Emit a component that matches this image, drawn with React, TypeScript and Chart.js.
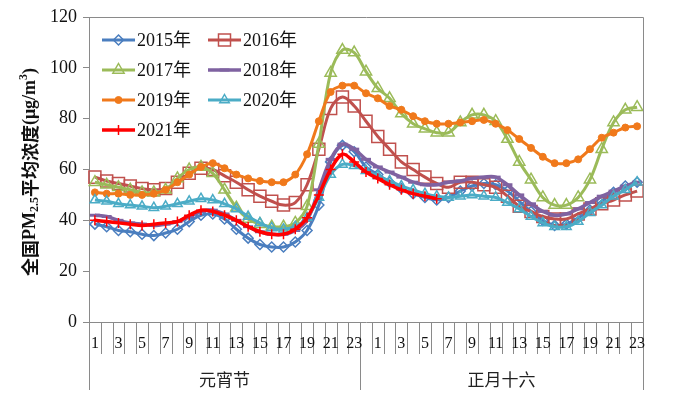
import React, { useEffect, useRef } from 'react';
import { Chart, registerables } from 'chart.js';

Chart.register(...registerables);

// ---------- data ----------
const day1Hours = ['1','2','3','4','5','6','7','8','9','10','11','12','13','14','15','16','17','18','19','20','21','22','23'];
const day2Hours = ['0','1','2','3','4','5','6','7','8','9','10','11','12','13','14','15','16','17','18','19','20','21','22','23'];
const groupLabels = ['元宵节', '正月十六'];
const categories = [...day1Hours, ...day2Hours];

const yTicks = [0, 20, 40, 60, 80, 100, 120];

const seriesNames = ['2015年', '2016年', '2017年', '2018年', '2019年', '2020年', '2021年'];

const s2015 = [38.5, 37.5, 36, 35.5, 34.5, 34, 35, 36.5, 39.5, 42, 42.5, 40.5, 36.5, 33, 30.5, 29.5, 29.5, 31.5, 36, 46, 63, 69.5, 67,
  61, 58, 55, 52.5, 50.5, 49, 48, 49, 51.5, 53.5, 54.5, 54, 51.5, 47.5, 43.5, 40, 38, 38.5, 41, 44, 47.5, 51, 53.5, 55];
const s2016 = [57, 55.5, 54.5, 53.5, 52.5, 52, 52.5, 55, 58.5, 60.5, 60, 57.5, 55, 52, 49.5, 47.5, 46, 47, 54, 68, 84, 88.5, 85,
  79, 73, 68, 63, 60, 57, 54.5, 53, 55, 55, 54, 53, 49.5, 45.5, 43.5, 41.5, 40.5, 40.5, 42.5, 44.5, 46.5, 48, 50, 51.5];
const s2017 = [55, 54, 53, 52, 51, 51, 52, 56.5, 60, 61, 58.5, 52, 45, 40.5, 38.5, 37.5, 37.5, 39, 45.5, 70, 98, 107, 106,
  98.5, 92, 88, 82, 78, 76, 74.5, 74.5, 78.5, 81.5, 81.5, 79, 72, 63, 56, 49, 46, 46, 49, 56, 68, 78.5, 83.5, 84.5];
const s2018 = [42, 41.5, 40, 39, 38.5, 38, 38.5, 39.5, 41.5, 43.5, 44, 42.5, 40, 37.5, 35.5, 34.5, 34.5, 36, 40, 52, 64, 70, 68,
  64, 61, 59, 57, 55, 54, 54, 55, 55.5, 56.5, 57, 57, 54, 50, 46.5, 43.5, 42, 42.5, 44.5, 47, 49.5, 51.5, 53.5, 55];
const s2019 = [51, 50.5, 50.5, 50, 50, 50.5, 52, 55, 58, 61, 62.5, 60.5, 58, 56.5, 55.5, 55, 55, 58, 66, 79, 90.5, 93, 93,
  90, 88, 85, 83.5, 81, 79, 78, 78, 78.5, 79, 79.5, 78, 75.5, 72, 68.5, 65, 62.5, 62.5, 64, 68, 72.5, 74.5, 76.5, 77];
const s2020 = [48, 47.5, 46.5, 46, 45.5, 45, 45.5, 46.5, 47.5, 48.5, 48, 46.5, 44.5, 41.5, 39, 37, 36.5, 37.5, 41, 49, 58, 62, 61.5,
  59.5, 57.5, 55.5, 53.5, 52, 50.5, 49.5, 49, 49.5, 50, 49.5, 49, 47, 44.5, 41.5, 39, 37.5, 37.5, 39.5, 43, 46, 49.5, 52, 55];
const s2021 = [40, 39.5, 39, 38.5, 38, 38.5, 39, 39.5, 42, 44, 43.5, 42, 40, 37.5, 35.5, 34.5, 34.5, 36.5, 41, 50, 60, 66, 63,
  59, 56.5, 54, 52, 50.5, 49.5, 48.5, null, null, null, null, null, null, null, null, null, null, null, null, null, null, null, null, null];

const seriesValues = [s2015, s2016, s2017, s2018, s2019, s2020, s2021];

// ---------- styles ----------
const colors = ['#4A7EBF', '#C0504D', '#9BBB59', '#7F62A1', '#F0791B', '#4BACC6', '#FF0000'];
const pointStyles = ['rectRot', 'rect', 'triangle', 'line', 'circle', 'triangle', 'cross'];
const pointRadii = [5, 8.5, 6.5, 5, 3.5, 5.5, 5];
const hollow = [true, true, true, false, false, true, false];
const lineWidths = [3, 3, 3, 3.5, 3, 3, 3.5];
const markerWidths = [1.5, 1.5, 1.5, 3, 1, 1.5, 1.5];

const GRAY = '#8A8A8A';
const SERIF = "'Liberation Serif', 'Times New Roman', 'Noto Sans CJK SC', serif";
const CJK = "'Noto Sans CJK SC', sans-serif";

function drawMarker(ctx: CanvasRenderingContext2D, style: string, x: number, y: number, r: number, color: string, isHollow: boolean, lw: number) {
  ctx.save();
  ctx.beginPath();
  ctx.strokeStyle = color;
  ctx.fillStyle = isHollow ? 'rgba(0,0,0,0)' : color;
  ctx.lineWidth = lw;
  switch (style) {
    case 'circle':
      ctx.arc(x, y, r, 0, Math.PI * 2);
      ctx.fill();
      ctx.stroke();
      break;
    case 'rect': {
      const s = r * Math.SQRT1_2;
      ctx.rect(x - s, y - s, 2 * s, 2 * s);
      ctx.fill();
      ctx.stroke();
      break;
    }
    case 'rectRot':
      ctx.moveTo(x, y - r);
      ctx.lineTo(x + r, y);
      ctx.lineTo(x, y + r);
      ctx.lineTo(x - r, y);
      ctx.closePath();
      ctx.fill();
      ctx.stroke();
      break;
    case 'triangle':
      ctx.moveTo(x, y - r);
      ctx.lineTo(x + r * 0.866, y + r * 0.5);
      ctx.lineTo(x - r * 0.866, y + r * 0.5);
      ctx.closePath();
      ctx.fill();
      ctx.stroke();
      break;
    case 'cross':
      ctx.moveTo(x, y - r);
      ctx.lineTo(x, y + r);
      ctx.moveTo(x - r, y);
      ctx.lineTo(x + r, y);
      ctx.stroke();
      break;
    case 'line':
      ctx.moveTo(x - r, y);
      ctx.lineTo(x + r, y);
      ctx.stroke();
      break;
  }
  ctx.restore();
}

const decorPlugin = {
  id: 'decor',
  afterDraw(chart: any) {
    const ctx: CanvasRenderingContext2D = chart.ctx;
    const { left, right, top, bottom } = chart.chartArea;
    const xs = chart.scales.x;
    const n = categories.length;
    const centers: number[] = [];
    for (let i = 0; i < n; i++) centers.push(xs.getPixelForValue(i));
    const bounds: number[] = [left];
    for (let i = 1; i < n; i++) bounds.push((centers[i - 1] + centers[i]) / 2);
    bounds.push(right);
    const crisp = (v: number) => Math.round(v) + 0.5;

    ctx.save();
    ctx.strokeStyle = GRAY;
    ctx.lineWidth = 1;
    // frame top + right + bottom axis
    ctx.beginPath();
    ctx.moveTo(crisp(left), crisp(top));
    ctx.lineTo(crisp(right), crisp(top));
    ctx.lineTo(crisp(right), crisp(bottom));
    ctx.moveTo(crisp(left), crisp(bottom));
    ctx.lineTo(crisp(right), crisp(bottom));
    ctx.stroke();

    // category tick lines and group dividers
    const groupBounds = [0, day1Hours.length, n];
    ctx.beginPath();
    for (let k = 0; k <= n; k++) {
      const x = crisp(bounds[k]);
      const len = groupBounds.includes(k) ? 68 : 32;
      ctx.moveTo(x, bottom);
      ctx.lineTo(x, bottom + len);
    }
    ctx.stroke();

    // category labels
    ctx.fillStyle = '#111';
    ctx.font = `16px ${SERIF}`;
    ctx.textAlign = 'center';
    ctx.textBaseline = 'middle';
    for (let i = 0; i < n; i += 2) {
      ctx.fillText(categories[i], centers[i], bottom + 22);
    }
    // group labels
    ctx.font = `17px ${CJK}`;
    ctx.fillStyle = '#222';
    for (let g = 0; g < 2; g++) {
      const cx = (bounds[groupBounds[g]] + bounds[groupBounds[g + 1]]) / 2;
      ctx.fillText(groupLabels[g], cx, bottom + 58);
    }

    // legend
    const colsX = [102, 208];
    const rowsY = [40, 70, 100, 130];
    ctx.textAlign = 'left';
    for (let i = 0; i < seriesNames.length; i++) {
      const x0 = colsX[i % 2];
      const y = rowsY[Math.floor(i / 2)];
      ctx.save();
      ctx.strokeStyle = colors[i];
      ctx.lineWidth = lineWidths[i];
      ctx.beginPath();
      ctx.moveTo(x0, y);
      ctx.lineTo(x0 + 33, y);
      ctx.stroke();
      ctx.restore();
      drawMarker(ctx, pointStyles[i], x0 + 16.5, y, pointRadii[i], colors[i], hollow[i], markerWidths[i]);
      ctx.fillStyle = '#111';
      ctx.font = `18px ${SERIF}`;
      ctx.textBaseline = 'middle';
      ctx.fillText(seriesNames[i], x0 + 35, y + 1);
    }

    // y axis title (rotated, with sub/superscript)
    const parts = [
      { t: '全国', f: `bold 18px ${CJK}`, dy: 0 },
      { t: 'PM', f: `bold 18px ${SERIF}`, dy: 0 },
      { t: '2.5', f: `bold 12px ${SERIF}`, dy: 5 },
      { t: '平均浓度', f: `bold 18px ${CJK}`, dy: 0 },
      { t: '(μg/m', f: `bold 18px ${SERIF}`, dy: 0 },
      { t: '3', f: `bold 12px ${SERIF}`, dy: -6 },
      { t: ')', f: `bold 18px ${SERIF}`, dy: 0 },
    ];
    let total = 0;
    const widths: number[] = [];
    for (const p of parts) {
      ctx.font = p.f;
      const w = ctx.measureText(p.t).width;
      widths.push(w);
      total += w;
    }
    ctx.translate(30, 172);
    ctx.rotate(-Math.PI / 2);
    ctx.fillStyle = '#111';
    ctx.textBaseline = 'middle';
    ctx.textAlign = 'left';
    let cx = -total / 2;
    parts.forEach((p, i) => {
      ctx.font = p.f;
      ctx.fillText(p.t, cx, p.dy);
      cx += widths[i];
    });
    ctx.restore();
  },
};

export default function App() {
  const ref = useRef<HTMLCanvasElement | null>(null);

  useEffect(() => {
    if (!ref.current) return;
    const datasets = seriesNames.map((name, i) => ({
      label: name,
      data: seriesValues[i],
      borderColor: colors[i],
      backgroundColor: colors[i],
      borderWidth: lineWidths[i],
      pointStyle: pointStyles[i],
      pointRadius: pointRadii[i],
      pointBorderWidth: markerWidths[i],
      pointBorderColor: colors[i],
      pointBackgroundColor: hollow[i] ? 'rgba(0,0,0,0)' : colors[i],
      tension: 0.35,
      fill: false,
      spanGaps: false,
      order: seriesNames.length - i,
    }));

    const chart = new Chart(ref.current, {
      type: 'line',
      data: { labels: categories, datasets },
      plugins: [decorPlugin],
      options: {
        animation: false,
        responsive: false,
        layout: { padding: { top: 17, right: 50, bottom: 0, left: 0 } },
        plugins: {
          legend: { display: false },
          tooltip: { enabled: false },
        },
        scales: {
          x: {
            type: 'category',
            offset: true,
            ticks: { display: false },
            grid: { display: false },
            border: { display: false },
            afterFit: (scale: any) => { scale.height = 75; },
          },
          y: {
            min: 0,
            max: 120,
            afterBuildTicks: (scale: any) => { scale.ticks = yTicks.map((v) => ({ value: v })); },
            ticks: {
              color: '#111',
              font: { family: SERIF, size: 18 },
              padding: 6,
            },
            grid: {
              display: true,
              drawOnChartArea: false,
              drawTicks: true,
              tickLength: 6,
              color: GRAY,
            },
            border: { display: true, color: GRAY },
            afterFit: (scale: any) => { scale.width = 89; },
          },
        },
      },
    });
    return () => chart.destroy();
  }, []);

  return (
    <div style={{ position: 'fixed', left: 0, top: 0, width: 693, height: 397, background: '#fff' }}>
      <canvas ref={ref} width={693} height={397} style={{ display: 'block' }} />
    </div>
  );
}
